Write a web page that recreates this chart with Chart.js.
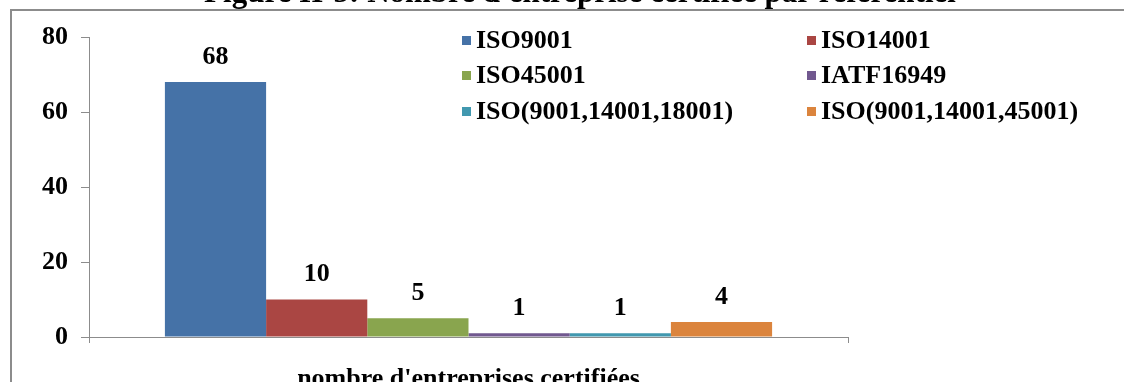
<!DOCTYPE html>
<html>
<head>
<meta charset="utf-8">
<script src="https://cdn.jsdelivr.net/npm/chart.js@4"></script>
<style>
  html, body { margin: 0; padding: 0; background: #fff; overflow: hidden; width: 1124px; height: 382px; }
  #wrap { position: absolute; left: 0; top: -30px; width: 1160px; height: 430px; }
  #legend { position: absolute; left: 0; top: 0; font: bold 26px "Liberation Serif", "Times New Roman", serif; color: #000; }
  .item { position: absolute; white-space: nowrap; height: 30px; line-height: 30px; }
  .sw { position: absolute; left: 0; top: 11px; width: 9px; height: 9px; }
  .lbl { position: absolute; left: 14px; top: 0; }
</style>
</head>
<body>
<div id="wrap"><canvas id="c" width="1160" height="430"></canvas></div>
<div id="legend"></div>
<script>
// Certified companies per standard
const categories = ["nombre d'entreprises certifiées"];
const seriesNames = ['ISO9001', 'ISO14001', 'ISO45001', 'IATF16949', 'ISO(9001,14001,18001)', 'ISO(9001,14001,45001)'];
const seriesValues = [68, 10, 5, 1, 1, 4];
const seriesColors = ['#4572A7', '#AA4643', '#89A54E', '#71588F', '#4198AF', '#DB843D'];
const yTicks = [0, 20, 40, 60, 80];
const chartTitle = "Figure II-5: Nombre d'entreprise certifiée par référentiel";

const FONT = "'Liberation Serif', 'Times New Roman', serif";
const AXIS_GREY = '#8c8c8c';

// Grey frame around the figure (top and left edges fall inside the view)
const framePlugin = {
  id: 'frame',
  beforeDraw(chart) {
    const ctx = chart.ctx;
    ctx.save();
    ctx.strokeStyle = AXIS_GREY;
    ctx.lineWidth = 2;
    ctx.beginPath();
    ctx.moveTo(11, 600);
    ctx.lineTo(11, 40);
    ctx.lineTo(1300, 40);
    ctx.stroke();
    ctx.restore();
  }
};

// Value written above each bar
const valueLabels = {
  id: 'valueLabels',
  afterDatasetsDraw(chart) {
    const ctx = chart.ctx;
    ctx.save();
    ctx.font = 'bold 26px ' + FONT;
    ctx.fillStyle = '#000';
    ctx.textAlign = 'center';
    ctx.textBaseline = 'middle';
    chart.data.datasets.forEach((ds, i) => {
      chart.getDatasetMeta(i).data.forEach((bar, j) => {
        ctx.fillText(String(ds.data[j]), bar.x, bar.y - 25);
      });
    });
    ctx.restore();
  }
};

const chart = new Chart(document.getElementById('c'), {
  type: 'bar',
  data: {
    labels: categories,
    datasets: seriesNames.map((name, i) => ({
      label: name,
      data: [seriesValues[i]],
      backgroundColor: seriesColors[i],
      borderWidth: 0,
      categoryPercentage: 0.8,
      barPercentage: 1.0
    }))
  },
  options: {
    responsive: false,
    animation: false,
    layout: { padding: 0 },
    plugins: {
      legend: { display: false },
      tooltip: { enabled: false },
      title: {
        display: true,
        text: chartTitle,
        color: '#000',
        font: { family: FONT, size: 31, weight: 'bold', lineHeight: 1.2 },
        padding: { top: 5.5, bottom: 24.3 }
      }
    },
    scales: {
      x: {
        grid: { display: true, drawOnChartArea: false, drawTicks: true, tickLength: 6, color: AXIS_GREY, offset: true },
        border: { display: true, color: AXIS_GREY, width: 1 },
        ticks: { color: '#000', padding: 21, font: { family: FONT, size: 26, weight: 'bold' } },
        afterFit(s) { s.height = 63; }
      },
      y: {
        min: 0,
        max: 80,
        afterBuildTicks(s) { s.ticks = yTicks.map(v => ({ value: v })); },
        grid: { display: true, drawOnChartArea: false, drawTicks: true, tickLength: 8, color: AXIS_GREY },
        border: { display: true, color: AXIS_GREY, width: 1 },
        ticks: { color: '#000', padding: 13, font: { family: FONT, size: 26, weight: 'bold' } },
        afterFit(s) { s.width = 89; }
      },
      spacer: {
        type: 'linear',
        position: 'right',
        display: true,
        grid: { display: false },
        border: { display: false },
        ticks: { display: false },
        afterFit(s) { s.width = 1160 - 848; }
      }
    }
  },
  plugins: [framePlugin, valueLabels]
});

// Legend in two columns, built from the chart's datasets
const legendEl = document.getElementById('legend');
const colX = [462, 807];
const rowY = [40, 75, 111];
chart.data.datasets.forEach((ds, i) => {
  const item = document.createElement('div');
  item.className = 'item';
  item.style.left = colX[i % 2] + 'px';
  item.style.top = (rowY[Math.floor(i / 2)] - 15) + 'px';
  const sw = document.createElement('span');
  sw.className = 'sw';
  sw.style.background = ds.backgroundColor;
  const lbl = document.createElement('span');
  lbl.className = 'lbl';
  lbl.textContent = ds.label;
  item.appendChild(sw);
  item.appendChild(lbl);
  legendEl.appendChild(item);
});
</script>
</body>
</html>
